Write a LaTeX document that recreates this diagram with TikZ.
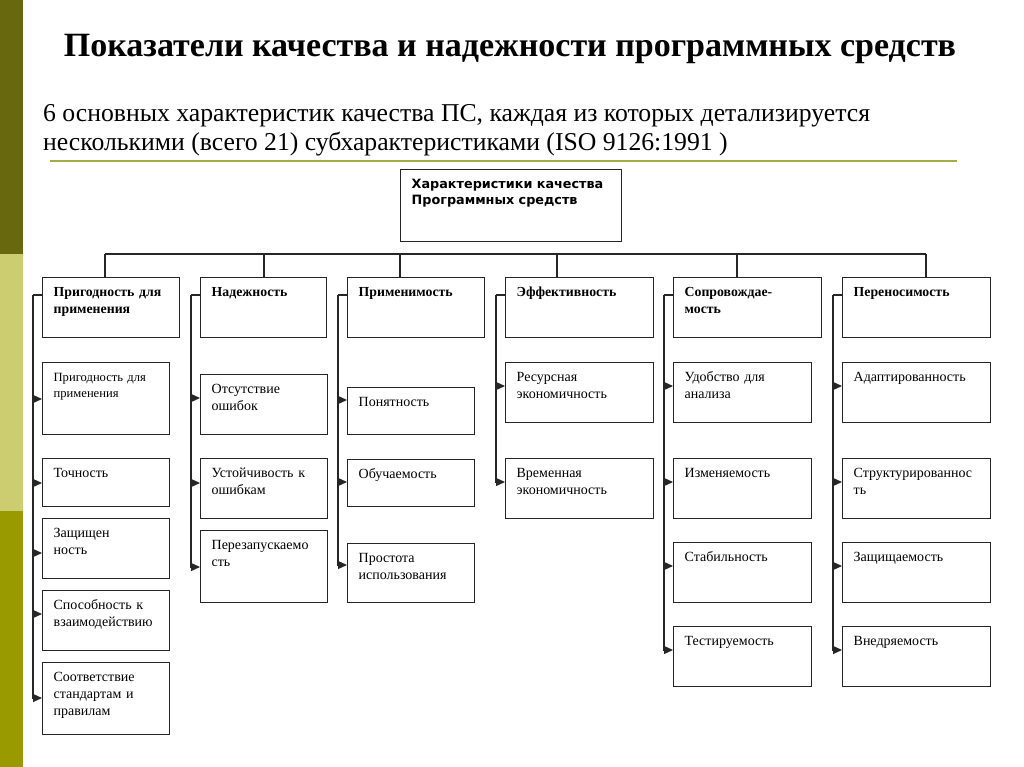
\documentclass[tikz,border=0pt]{standalone}
\usepackage{fontspec}
\setmainfont{Liberation Serif}
\newfontfamily\rootfont{DejaVu Sans}
\usetikzlibrary{arrows.meta}

\definecolor{stripedark}{RGB}{104,104,14}
\definecolor{stripelight}{RGB}{204,204,112}
\definecolor{stripeolive}{RGB}{153,153,0}
\definecolor{rulegreen}{RGB}{160,174,66}

\begin{document}
\begin{tikzpicture}[
    x=1pt, y=-1pt,
    >={Triangle[length=9pt, width=8pt]},
    box/.style 2 args={draw=black!85, line width=1.3pt, anchor=north west,
        inner xsep=11pt, inner ysep=0pt, text width=#1pt-22pt,
        text height=19pt, text depth=#2pt-19pt, align=left,
        font=\fontsize{14}{17}\selectfont},
    head/.style 2 args={box={#1}{#2}, font=\bfseries\fontsize{13.8}{17}\selectfont},
    link/.style={draw=black!85, line width=1.2pt},
    arrow/.style={link, ->}
]
\useasboundingbox (0,0) rectangle (1024,767);
\fill[white] (0,0) rectangle (1024,767);

% Side stripe
\fill[stripedark] (0,0) rectangle (23,254);
\fill[stripelight] (0,254) rectangle (23,511);
\fill[stripeolive] (0,511) rectangle (23,767);

% Title and subtitle
\node[anchor=base, inner sep=0pt, font=\bfseries\fontsize{34}{40}\selectfont] (title) at (510,57)
    {Показатели качества и надежности программных средств};
\node[anchor=base west, inner sep=0pt, font=\fontsize{25.7}{29}\selectfont] (sub1) at (43,122)
    {6 основных характеристик качества ПС, каждая из которых детализируется};
\node[anchor=base west, inner sep=0pt, font=\fontsize{25.7}{29}\selectfont] (sub2) at (43,151)
    {несколькими (всего 21) субхарактеристиками (ISO 9126:1991 )};
\draw[rulegreen, line width=2.5pt] (50,161) -- (957,161);

% Root
\node[box={221}{72}, font=\rootfont\bfseries\fontsize{12.8}{16}\selectfont] (root) at (400,169)
    {Характеристики качества\\Программных средств};

% Six characteristics
\node[head={137}{60}] (h1) at (42,277) {Пригодность для\\применения};
\node[head={126}{60}] (h2) at (200,277) {Надежность};
\node[head={137}{60}] (h3) at (347,277) {Применимость};
\node[head={148}{60}] (h4) at (505,277) {Эффективность};
\node[head={148}{60}] (h5) at (673,277) {Сопровождае-\\мость};
\node[head={148}{60}] (h6) at (842,277) {Переносимость};

% Bus
\coordinate (bus) at (0,254);
\draw[link] ([xshift=63pt]h1.north west |- bus) -- ([xshift=84pt]h6.north west |- bus);
\foreach \h/\dx in {h1/63, h2/64, h3/53, h4/52, h5/64, h6/84}
    \draw[link] ([xshift=\dx pt]\h.north west) -- ([xshift=\dx pt]\h.north west |- bus);

% Subcharacteristics
\node[box={127}{72}, font=\fontsize{12.6}{16}\selectfont] (c11) at (42,362) {Пригодность для\\применения};
\node[box={127}{48}] (c12) at (42,458) {Точность};
\node[box={127}{60}] (c13) at (42,518) {Защищен\\ность};
\node[box={127}{60}] (c14) at (42,590) {Способность к\\взаимодействию};
\node[box={127}{72}] (c15) at (42,662) {Соответствие\\стандартам и\\правилам};

\node[box={127}{60}] (c21) at (200,374) {Отсутствие\\ошибок};
\node[box={127}{60}] (c22) at (200,458) {Устойчивость к\\ошибкам};
\node[box={127}{72}] (c23) at (200,530) {Перезапускаемо\\сть};

\node[box={127}{47}] (c31) at (347,387) {Понятность};
\node[box={127}{47}] (c32) at (347,459) {Обучаемость};
\node[box={127}{59}] (c33) at (347,543) {Простота\\использования};

\node[box={148}{60}] (c41) at (505,362) {Ресурсная\\экономичность};
\node[box={148}{60}] (c42) at (505,458) {Временная\\экономичность};

\node[box={138}{60}] (c51) at (673,362) {Удобство для\\анализа};
\node[box={138}{60}] (c52) at (673,458) {Изменяемость};
\node[box={138}{60}] (c53) at (673,542) {Стабильность};
\node[box={138}{60}] (c54) at (673,626) {Тестируемость};

\node[box={148}{60}] (c61) at (842,362) {Адаптированность};
\node[box={148}{60}] (c62) at (842,458) {Структурированнос\\ть};
\node[box={148}{60}] (c63) at (842,542) {Защищаемость};
\node[box={148}{60}] (c64) at (842,626) {Внедряемость};

% Brackets with arrows
\foreach \i in {1,...,6}
    \draw[link] ([yshift=-18pt]h\i.north west) -- ++(-9pt,0) coordinate (v\i);
\foreach \c/\dy in {c11/37, c12/25, c13/35, c14/24, c15/36}
    \draw[arrow] (v1) |- ([yshift=-\dy pt]\c.north west);
\foreach \c/\dy in {c21/24, c22/25, c23/37}
    \draw[arrow] (v2) |- ([yshift=-\dy pt]\c.north west);
\foreach \c/\dy in {c31/13, c32/23, c33/22}
    \draw[arrow] (v3) |- ([yshift=-\dy pt]\c.north west);
\foreach \c in {c41, c42}
    \draw[arrow] (v4) |- ([yshift=-24pt]\c.north west);
\foreach \c in {c51, c52, c53, c54}
    \draw[arrow] (v5) |- ([yshift=-24pt]\c.north west);
\foreach \c in {c61, c62, c63, c64}
    \draw[arrow] (v6) |- ([yshift=-24pt]\c.north west);

\end{tikzpicture}
\end{document}
